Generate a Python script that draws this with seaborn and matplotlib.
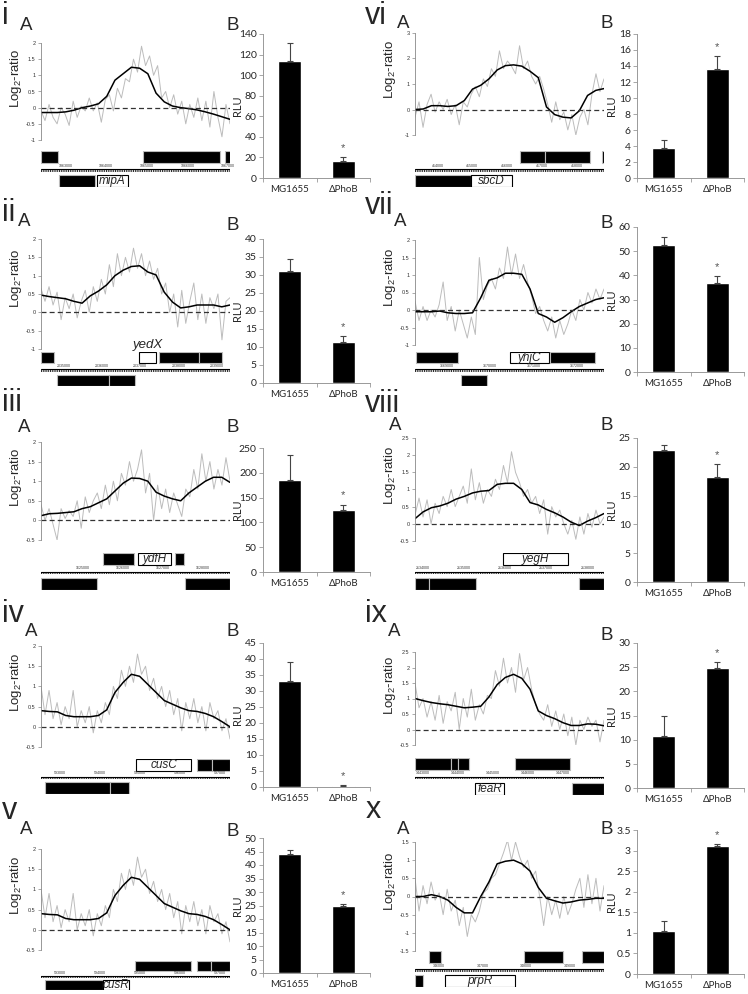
import numpy as np
import pandas as pd
import matplotlib
matplotlib.use("Agg")
import matplotlib.pyplot as plt
import seaborn as sns
from matplotlib.patches import Rectangle

# ==================== STYLE ====================
sns.set_theme(style="white")
plt.rcParams['font.family'] = ['Liberation Sans', 'DejaVu Sans']
plt.rcParams['mathtext.default'] = 'regular'

W, H = 748, 994
strains = ["MG1655", "ΔPhoB"]

# ==================== DATA ====================
# log2-ratio traces: smoothed (black) and raw probes (grey), left to right
i_smooth = [-0.15, -0.15, -0.15, -0.13, -0.08, 0.0, 0.05, 0.12, 0.35, 0.85, 1.05, 1.25, 1.22, 1.05, 0.45, 0.18, 0.05, 0.0, -0.03, -0.07, -0.13, -0.2, -0.28, -0.36]
i_raw = [-0.1, -0.4, 0.1, -0.3, -0.5, 0.0, -0.2, -0.55, 0.2, -0.3, 0.05, -0.1, 0.3, -0.1, 0.15, -0.45, 0.25, 0.4, -0.1, 0.6, 0.3, 0.9, 0.8, 1.5, 1.1, 1.9, 1.3, 1.6, 1.0, 1.3, 0.3, 0.5, 0.0, 0.4, -0.2, 0.2, -0.5, 0.1, -0.3, 0.3, -0.4, 0.2, -0.6, 0.5, -0.3, -0.9, 0.1, -0.5]
vi_smooth = [0.0, 0.02, 0.15, 0.15, 0.12, 0.15, 0.35, 0.8, 0.95, 1.2, 1.55, 1.72, 1.75, 1.7, 1.5, 1.25, 0.1, -0.2, -0.3, -0.33, -0.05, 0.55, 0.75, 0.82]
vi_raw = [-0.3, 0.3, -0.7, 0.2, 0.6, -0.1, 0.3, 0.0, 0.4, -0.2, 0.2, -0.6, 0.3, 0.1, 0.6, 0.9, 0.5, 1.2, 0.9, 1.6, 1.3, 2.3, 1.6, 1.9, 1.7, 1.4, 2.5, 1.6, 1.9, 1.3, 1.0, 1.3, 0.8, 0.2, -0.5, 0.3, -0.4, -0.1, -0.8, -0.2, -1.0, -0.3, 0.0, -0.6, 0.6, 1.4, 0.7, 1.2]
ii_smooth = [0.47, 0.43, 0.4, 0.37, 0.3, 0.25, 0.45, 0.58, 0.75, 1.0, 1.15, 1.25, 1.27, 1.1, 1.02, 0.55, 0.28, 0.12, 0.15, 0.2, 0.2, 0.2, 0.15, 0.2]
ii_raw = [0.65, 0.3, 0.7, 0.2, 0.55, -0.2, 0.4, 0.1, 0.5, -0.15, 0.3, 0.6, 0.0, 0.7, 0.3, 0.9, 0.5, 1.3, 0.7, 1.6, 1.0, 1.5, 1.1, 1.75, 1.2, 1.6, 1.0, 1.4, 0.9, 1.2, 0.5, 0.8, 0.0, 0.5, -0.4, 0.6, -0.3, 0.3, 0.8, -0.2, 0.5, -0.3, 0.4, 0.1, 0.5, -0.75, 0.3, 0.4]
vii_smooth = [-0.05, -0.05, -0.05, -0.03, -0.08, -0.1, -0.1, -0.08, 0.35, 0.85, 0.92, 1.05, 1.05, 1.02, 0.6, -0.1, -0.2, -0.35, -0.22, -0.05, 0.1, 0.2, 0.3, 0.35]
vii_raw = [0.25, -0.3, 0.1, -0.3, 0.0, -0.2, 0.15, 0.8, -0.3, 0.1, -0.6, 0.0, -0.4, -0.8, -0.2, -0.7, 1.5, 0.3, 0.7, 0.9, 0.6, 1.2, 0.9, 1.8, 1.0, 1.6, 0.9, 1.3, 0.8, 0.4, -0.1, 0.1, -0.3, -0.6, -0.2, -0.8, -0.3, -0.7, -0.4, 0.0, -0.3, 0.3, 0.0, 0.5, 0.2, 0.6, 0.3, 0.6]
iii_smooth = [0.12, 0.17, 0.18, 0.2, 0.22, 0.3, 0.35, 0.45, 0.55, 0.75, 0.95, 1.08, 1.07, 1.0, 0.72, 0.62, 0.55, 0.5, 0.7, 0.85, 1.0, 1.1, 1.1, 0.97]
iii_raw = [0.4, 0.0, 0.3, -0.1, -0.5, 0.3, 0.05, 0.25, 0.1, 0.5, -0.2, 0.6, 0.2, 0.5, 0.7, 0.3, 0.9, 0.4, 1.0, 0.5, 1.2, 0.9, 1.5, 1.0, 1.3, 1.8, 0.7, 1.2, 0.0, 0.9, 0.3, 0.8, 0.2, 0.7, 0.4, 0.1, 0.8, 0.6, 1.3, 0.8, 1.7, 1.0, 1.5, 0.8, 1.3, 0.9, 1.6, 1.0]
viii_smooth = [0.15, 0.35, 0.47, 0.52, 0.6, 0.72, 0.8, 0.9, 0.95, 0.97, 1.15, 1.18, 1.18, 1.0, 0.62, 0.55, 0.42, 0.32, 0.2, 0.05, -0.05, 0.08, 0.18, 0.3]
viii_raw = [0.25, 0.75, 0.2, 0.7, 0.0, 0.6, 0.3, 0.8, 0.5, 1.0, 0.5, 0.8, 1.1, 0.6, 1.6, 0.7, 1.2, 0.6, 1.0, 0.8, 1.3, 1.0, 1.7, 1.2, 2.1, 1.5, 1.2, 0.8, 1.0, 0.6, 0.8, 0.3, 0.7, -0.3, 0.5, 0.2, 0.4, 0.0, -0.3, 0.1, -0.45, 0.2, -0.3, 0.3, -0.1, 0.4, 0.0, 0.2]
cus_smooth = [0.4, 0.38, 0.37, 0.28, 0.25, 0.25, 0.25, 0.28, 0.42, 0.85, 1.1, 1.3, 1.25, 1.05, 0.85, 0.65, 0.56, 0.47, 0.4, 0.38, 0.33, 0.25, 0.13, 0.0]
cus_raw = [1.0, 0.3, 0.9, 0.2, 0.6, 0.05, 0.5, 0.2, 0.9, 0.0, 0.4, 0.1, 0.5, -0.15, 0.4, 0.1, 0.6, 0.3, 1.0, 0.7, 1.4, 1.0, 1.5, 1.1, 1.8, 1.3, 1.5, 0.9, 1.2, 0.7, 1.0, 0.5, 0.9, 0.3, 0.7, -0.1, 0.6, 0.2, 0.7, 0.1, 0.5, -0.1, 0.6, 0.2, 0.4, -0.1, 0.2, -0.3]
ix_smooth = [1.0, 0.93, 0.87, 0.83, 0.8, 0.75, 0.7, 0.72, 0.75, 1.05, 1.45, 1.68, 1.78, 1.65, 1.3, 0.6, 0.45, 0.35, 0.22, 0.13, 0.13, 0.18, 0.17, 0.12]
ix_raw = [1.5, 0.7, 1.0, 0.4, 0.9, 0.3, 1.1, 0.2, 0.9, 0.6, 1.2, 0.0, 1.0, 0.4, 1.3, 0.3, 0.8, 0.5, 1.1, 1.0, 1.9, 1.4, 2.3, 1.5, 2.0, 1.2, 2.45, 1.6, 2.0, 1.3, 0.8, 0.5, 0.3, 0.8, 0.1, 0.6, 0.0, 0.5, -0.2, 0.4, -0.5, 0.3, 0.0, 0.4, 0.1, 0.3, -0.4, 0.3]
x_smooth = [0.0, 0.0, 0.05, 0.0, -0.1, -0.3, -0.45, -0.45, 0.0, 0.4, 0.9, 0.97, 1.0, 0.9, 0.7, 0.25, -0.05, -0.12, -0.18, -0.15, -0.1, -0.08, -0.05, -0.05]
x_raw = [0.5, -0.4, 0.3, -0.2, 0.4, -0.1, 0.1, -0.5, 0.2, -0.4, -0.1, -0.8, -0.3, -1.1, -0.5, -0.7, -0.4, 0.1, 0.2, 0.5, 0.6, 0.9, 1.2, 1.55, 1.0, 1.5, 1.1, 0.8, 1.0, 0.5, 0.7, 0.0, -0.8, 0.0, -0.5, -0.1, -0.6, 0.0, -0.5, -0.2, 0.2, 0.5, -0.3, 0.6, -0.2, 0.5, -0.4, 0.3]

# genome windows (bp) and ruler ticks
i_window, i_ruler = (1862400, 1867050), [1863000, 1864000, 1865000, 1866000, 1867000]
vi_window, vi_ruler = (413350, 418780), [414000, 415000, 416000, 417000, 418000]
ii_window, ii_ruler = (2034410, 2039350), [2035000, 2036000, 2037000, 2038000, 2039000]
vii_window, vii_ruler = (3668270, 3672615), [3669000, 3670000, 3671000, 3672000]
iii_window, iii_ruler = (1623975, 1628665), [1625000, 1626000, 1627000, 1628000]
viii_window, viii_ruler = (2133815, 2138400), [2134000, 2135000, 2136000, 2137000, 2138000]
cus_window, cus_ruler = (592515, 597250), [593000, 594000, 595000, 596000, 597000]
ix_window, ix_ruler = (1442780, 1448190), [1443000, 1444000, 1445000, 1446000, 1447000]
x_window, x_ruler = (345440, 349785), [346000, 347000, 348000, 349000]

# genes: (start, end, strand row, filled, name, label position)
i_genes = [(1862400, 1862830, 1, True, "", ""), (1864920, 1866815, 1, True, "", ""), (1866920, 1867080, 1, True, "", ""),
           (1862855, 1863725, -1, True, "", ""), (1863780, 1864540, -1, False, "mipA", "in")]
vi_genes = [(416380, 417075, 1, True, "", ""), (417075, 418380, 1, True, "", ""), (418720, 418800, 1, True, "", ""),
            (413350, 414950, -1, True, "", ""), (414950, 416140, -1, False, "sbcD", "in")]
ii_genes = [(2034410, 2034740, 1, True, "", ""), (2036980, 2037410, 1, False, "yedX", "above"),
            (2037500, 2038540, 1, True, "", ""), (2038540, 2039150, 1, True, "", ""),
            (2034840, 2036200, -1, True, "", ""), (2036200, 2036870, -1, True, "", "")]
vii_genes = [(3668285, 3669270, 1, True, "", ""), (3670450, 3671350, 1, False, "yhjC", "in"),
             (3671385, 3672400, 1, True, "", ""), (3669320, 3669920, -1, True, "", "")]
iii_genes = [(1625515, 1626290, 1, True, "", ""), (1626390, 1627190, 1, False, "ydfH", "in"), (1627300, 1627530, 1, True, "", ""),
             (1623975, 1625375, -1, True, "", ""), (1627545, 1628665, -1, True, "", "")]
viii_genes = [(2135950, 2137515, 1, False, "yegH", "in"), (2133815, 2134160, -1, True, "", ""),
              (2134160, 2135290, -1, True, "", ""), (2137790, 2138400, -1, True, "", "")]
iv_genes = [(594900, 596270, 1, False, "cusC", "in"), (596435, 596790, 1, True, "", ""), (596790, 597250, 1, True, "", ""),
            (592610, 594250, -1, True, "", ""), (594250, 594730, -1, True, "", "")]
ix_genes = [(1442780, 1443810, 1, True, "", ""), (1443810, 1444000, 1, True, "", ""), (1444000, 1444330, 1, True, "", ""),
            (1445650, 1447210, 1, True, "", ""), (1444500, 1445330, -1, False, "feaR", "in"), (1447260, 1448190, -1, True, "", "")]
v_genes = [(594875, 596275, 1, True, "", ""), (596415, 596765, 1, True, "", ""), (596765, 597250, 1, True, "", ""),
           (592610, 594080, -1, True, "", ""), (594080, 594730, -1, False, "cusR", "in")]
x_genes = [(345770, 346040, 1, True, "", ""), (347950, 348845, 1, True, "", ""), (349290, 349785, 1, True, "", ""),
           (345440, 345620, -1, True, "", ""), (346140, 347730, -1, False, "prpR", "in")]

# luciferase RLU: means and upper errors (MG1655, dPhoB)
i_rlu, i_err = [114, 17], [17, 3]
vi_rlu, vi_err = [3.8, 13.6], [0.9, 1.6]
ii_rlu, ii_err = [31, 11.5], [3.5, 1.5]
vii_rlu, vii_err = [52.5, 37], [3.3, 2.7]
iii_rlu, iii_err = [185, 124], [50, 12]
viii_rlu, viii_err = [23, 18.2], [0.7, 2.3]
iv_rlu, iv_err = [33, 0.3], [6, 0.2]
ix_rlu, ix_err = [10.8, 24.8], [4.1, 1.2]
v_rlu, v_err = [44.2, 24.8], [1.4, 0.8]
x_rlu, x_err = [1.05, 3.12], [0.23, 0.04]

# ==================== LAYOUT (pixels) ====================
# name, col offset, numeral (x,y), A (x,y), B y, log axes (top,bottom), log ylim, log step, track (top,bottom), bar (top,bottom), bar max, bar step
layout = [
    ("i", 0, (2, 16), (20, 25), 25, (43, 140), (-1, 2), 0.5, (151, 187), (34, 178), 140, 20),
    ("ii", 0, (2, 213), (18, 221), 226, (239, 349), (-1, 2), 0.5, (352, 386), (239, 383), 40, 5),
    ("iii", 0, (2, 403), (18, 427), 427, (442, 540), (-0.5, 2), 0.5, (553, 590), (448, 572), 250, 50),
    ("iv", 0, (2, 614), (25, 632), 632, (646, 747), (-0.5, 2), 0.5, (759, 794), (643, 787), 45, 5),
    ("v", 0, (2, 811), (20, 829), 831, (849, 950), (-0.5, 2), 0.5, (961, 990), (838, 973), 50, 5),
    ("vi", 374, (-9, 16), (23, 23), 23, (33, 135), (-1, 3), 1, (151, 187), (34, 178), 18, 2),
    ("vii", 374, (-9, 206), (20, 222), 223, (240, 345), (-1, 2), 0.5, (352, 386), (227, 372), 60, 10),
    ("viii", 374, (-9, 404), (15, 426), 426, (438, 541), (-0.5, 2.5), 0.5, (553, 590), (438, 582), 25, 5),
    ("ix", 374, (-9, 614), (14, 631), 636, (652, 745), (-0.5, 2.5), 0.5, (758, 795), (643, 788), 30, 5),
    ("x", 374, (-8, 810), (23, 830), 830, (842, 951), (-1.5, 1.5), 0.5, (951, 987), (830, 974), 3.5, 0.5),
]
traces = {"i": (i_raw, i_smooth, i_window, i_ruler, i_genes, i_rlu, i_err),
          "ii": (ii_raw, ii_smooth, ii_window, ii_ruler, ii_genes, ii_rlu, ii_err),
          "iii": (iii_raw, iii_smooth, iii_window, iii_ruler, iii_genes, iii_rlu, iii_err),
          "iv": (cus_raw, cus_smooth, cus_window, cus_ruler, iv_genes, iv_rlu, iv_err),
          "v": (cus_raw, cus_smooth, cus_window, cus_ruler, v_genes, v_rlu, v_err),
          "vi": (vi_raw, vi_smooth, vi_window, vi_ruler, vi_genes, vi_rlu, vi_err),
          "vii": (vii_raw, vii_smooth, vii_window, vii_ruler, vii_genes, vii_rlu, vii_err),
          "viii": (viii_raw, viii_smooth, viii_window, viii_ruler, viii_genes, viii_rlu, viii_err),
          "ix": (ix_raw, ix_smooth, ix_window, ix_ruler, ix_genes, ix_rlu, ix_err),
          "x": (x_raw, x_smooth, x_window, x_ruler, x_genes, x_rlu, x_err)}

fig = plt.figure(figsize=(W / 100, H / 100), dpi=100)


def px_axes(l, t, r, b):
    return fig.add_axes([l / W, 1 - b / H, (r - l) / W, (b - t) / H])


def fmt(v):
    return f"{v:g}"


for name, cx, (nx, ny), (axx, ay), by, (lt, lb), ylim, ystep, (tt, tb), (bt, bb), bmax, bstep in layout:
    raw, smooth, window, ruler, genes, rlu, err = traces[name]

    # ---- labels ----
    fig.text((cx + nx) / W, 1 - ny / H, name, fontsize=22, va="center", ha="left")
    fig.text((cx + axx) / W, 1 - ay / H, "A", fontsize=13.5, va="center", ha="left")
    fig.text((cx + 227) / W, 1 - by / H, "B", fontsize=13.5, va="center", ha="left")
    fig.text((cx + 16) / W, 1 - (lt + 0.36 * (lb - lt)) / H, "Log$_2$-ratio", fontsize=9.5,
             rotation=90, va="center", ha="center")

    # ---- log2 ratio trace ----
    ax = px_axes(cx + 41, lt, cx + 230, lb)
    xr = np.linspace(window[0], window[1], len(raw))
    xs = np.linspace(window[0], window[1], len(smooth))
    sns.lineplot(x=xr, y=raw, ax=ax, color="#bcbcbc", lw=0.7)
    sns.lineplot(x=xs, y=smooth, ax=ax, color="black", lw=1.1)
    ax.axhline(0, color="#333333", ls=(0, (4, 2.5)), lw=0.9)
    ax.set_xlim(window)
    ax.set_ylim(ylim)
    yt = np.arange(ylim[0], ylim[1] + 1e-9, ystep)
    ax.set_yticks(yt)
    ax.set_yticklabels([fmt(v) for v in yt], fontsize=4, color="#333")
    ax.set_xticks([])
    for s in ["top", "right", "bottom"]:
        ax.spines[s].set_visible(False)
    ax.spines["left"].set_color("#888888")
    ax.spines["left"].set_linewidth(0.6)
    ax.tick_params(axis="y", left=True, length=2, width=0.5, color="#888888", pad=2)
    ax.set_facecolor("none")

    # ---- gene track ----
    gx = px_axes(cx + 41, tt, cx + 230, tb)
    gx.set_xlim(window)
    gx.set_ylim(-1.5, 1.5)
    gx.axis("off")
    for start, end, row, filled, gname, gpos in genes:
        y0 = 0.5 if row > 0 else -1.5
        gx.add_patch(Rectangle((start, y0), end - start, 1.0,
                               facecolor="black" if filled else "white",
                               edgecolor="#bbbbbb" if filled else "black", lw=0.8))
        if gname and gpos == "in":
            gx.text((start + end) / 2, y0 + 0.5, gname, style="italic", fontsize=8.5, ha="center", va="center")
        elif gname:
            gx.text((start + end) / 2, y0 + 1.05, gname, style="italic", fontsize=9.5, ha="center", va="bottom")
    gx.axhline(0, color="black", lw=0.8)
    gx.axhline(-0.15, color="black", lw=1.3, ls=(0, (0.5, 0.5)))
    for t in ruler:
        gx.text(t, 0.1, str(t), fontsize=2.6, ha="center", va="bottom", color="#333")

    # ---- RLU bars ----
    bx = px_axes(cx + 263, bt, cx + 370, bb)
    df = pd.DataFrame({"strain": strains, "rlu": rlu})
    sns.barplot(data=df, x="strain", y="rlu", ax=bx, color="black", saturation=1, width=0.43, errorbar=None)
    bx.errorbar([0, 1], rlu, yerr=[[0, 0], err], fmt="none", ecolor="#444444", elinewidth=0.8, capsize=2.5, capthick=0.8)
    bx.annotate("*", (1, rlu[1] + err[1]), xytext=(0, 3), textcoords="offset points",
                ha="center", va="bottom", fontsize=8, color="#555555")
    bx.set_xlim(-0.5, 1.5)
    bx.set_ylim(0, bmax)
    bt_vals = np.arange(0, bmax + 1e-9, bstep)
    bx.set_yticks(bt_vals)
    bx.set_yticklabels([fmt(v) for v in bt_vals], fontsize=7.5, family="Lato")
    bx.set_xticks([0, 1])
    bx.set_xticklabels(strains, fontsize=7, family="Lato")
    bx.set_xticks([-0.5, 0.5, 1.5], minor=True)
    bx.tick_params(axis="x", which="major", length=0, pad=5)
    bx.tick_params(axis="x", which="minor", bottom=True, length=3, width=0.6, color="#999999")
    bx.tick_params(axis="y", left=True, length=3, width=0.6, color="#999999", pad=1.5)
    bx.set_xlabel("")
    bx.set_ylabel("")
    for s in ["top", "right"]:
        bx.spines[s].set_visible(False)
    for s in ["left", "bottom"]:
        bx.spines[s].set_color("#999999")
        bx.spines[s].set_linewidth(0.7)
    fig.text((cx + 238) / W, 1 - (bt + bb) / 2 / H, "RLU", fontsize=8, family="Lato", rotation=90, va="center", ha="center")

fig.savefig("out.png", dpi=100)
